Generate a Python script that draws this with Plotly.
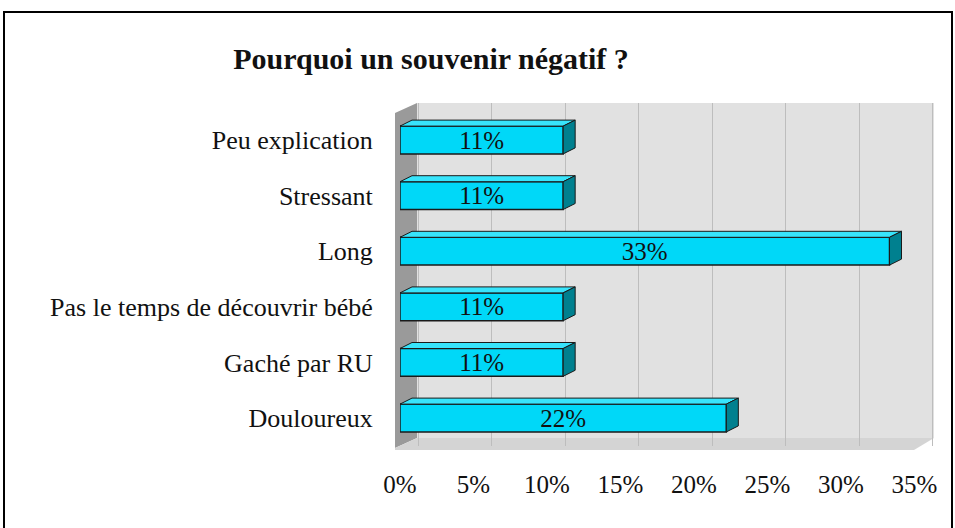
import plotly.graph_objects as go

# Data (bottom to top in plot order)
categories = ["Douloureux", "Gaché par RU", "Pas le temps de découvrir bébé",
              "Long", "Stressant", "Peu explication"]
values = [22.2, 11.1, 11.1, 33.3, 11.1, 11.1]
labels = ["22%", "11%", "11%", "33%", "11%", "11%"]
x_ticks = [0, 5, 10, 15, 20, 25, 30, 35]
x_ticklabels = ["0%", "5%", "10%", "15%", "20%", "25%", "30%", "35%"]

W, H = 955, 528
L, R, T, B = 400, 934, 103, 446   # plot area in px
PXU = 73.5 / 5.0                  # px per x unit
YPX = 55.6                        # px per category
x_range = [0, (R - L) / PXU]
y_range = [-(B - 418) / YPX, 5 + (140 - T) / YPX]

FONT = "Liberation Serif"
ypos = list(range(len(categories)))

# 3D depth of bars in data units
dxb = 12 / PXU
dyb = 6 / YPX
hw = 0.25

side_x, side_y, top_x, top_y = [], [], [], []
for yi, v in zip(ypos, values):
    side_x += [v, v + dxb, v + dxb, v, v, None]
    side_y += [yi - hw, yi - hw + dyb, yi + hw + dyb, yi + hw, yi - hw, None]
    top_x += [0, dxb, v + dxb, v, 0, None]
    top_y += [yi + hw, yi + hw + dyb, yi + hw + dyb, yi + hw, yi + hw, None]

fig = go.Figure()
fig.add_trace(go.Scatter(x=top_x, y=top_y, fill="toself", mode="lines",
                         fillcolor="#38e4fb", line=dict(color="#1a1a1a", width=1),
                         hoverinfo="skip", showlegend=False))
fig.add_trace(go.Scatter(x=side_x, y=side_y, fill="toself", mode="lines",
                         fillcolor="#00808f", line=dict(color="#1a1a1a", width=1),
                         hoverinfo="skip", showlegend=False))
fig.add_trace(go.Bar(x=values, y=ypos, orientation="h", width=0.5,
                     marker=dict(color="#00d8f8", line=dict(color="#1a1a1a", width=1.5)),
                     text=labels, textposition="inside", insidetextanchor="middle",
                     constraintext="none",
                     textfont=dict(family=FONT, size=25, color="#111111"),
                     showlegend=False))
# invisible trace on back-wall axis to anchor gridlines
back_shift = 18 / PXU
fig.add_trace(go.Scatter(x=[0], y=[0], xaxis="x2", mode="markers",
                         marker=dict(opacity=0), hoverinfo="skip", showlegend=False))

def px2paper_x(px):
    return (px - L) / (R - L)

def px2paper_y(py):
    return (B - py) / (B - T)

def path(points):
    s = ""
    for i, (px, py) in enumerate(points):
        s += ("M" if i == 0 else "L") + f"{px2paper_x(px):.5f},{px2paper_y(py):.5f} "
    return s + "Z"

shapes = [
    # back wall
    dict(type="path", xref="paper", yref="paper", layer="below",
         path=path([(417, T), (R, T), (R, 438), (417, 438)]),
         fillcolor="#e1e1e1", line=dict(width=0)),
    # left wall
    dict(type="path", xref="paper", yref="paper", layer="between",
         path=path([(395, 113), (417, T), (417, 438), (395, 448)]),
         fillcolor="#9a9a9a", line=dict(width=0)),
    # floor
    dict(type="path", xref="paper", yref="paper", layer="between",
         path=path([(395, 448), (417, 438), (R, 438), (914, 450), (395, 450)]),
         fillcolor="#d4d4d4", line=dict(width=0)),
    # outer frame
    dict(type="rect", xref="paper", yref="paper", layer="above",
         x0=px2paper_x(4), x1=px2paper_x(952), y0=px2paper_y(545), y1=px2paper_y(12),
         line=dict(color="#000000", width=2), fillcolor="rgba(0,0,0,0)"),
]

fig.update_layout(
    width=W, height=H,
    margin=dict(l=L, r=W - R, t=T, b=H - B, pad=0),
    paper_bgcolor="white", plot_bgcolor="rgba(0,0,0,0)",
    bargap=0.5,
    title=dict(text="<b>Pourquoi un souvenir négatif ?</b>", xref="container", yref="container",
               x=431 / W, xanchor="center", y=1 - 58 / H, yanchor="middle",
               font=dict(family=FONT, size=30, color="#111111")),
    xaxis=dict(range=x_range, tickvals=x_ticks, ticktext=x_ticklabels,
               showgrid=False, zeroline=False, showline=False,
               ticks="outside", ticklen=16, tickcolor="rgba(0,0,0,0)",
               tickfont=dict(family=FONT, size=25, color="#111111")),
    xaxis2=dict(overlaying="x", range=[x_range[0] - back_shift, x_range[1] - back_shift],
                tickvals=x_ticks, showticklabels=False, showgrid=True,
                gridcolor="#bdbdbd", gridwidth=1.2, zeroline=False, showline=False),
    yaxis=dict(range=y_range, tickvals=ypos, ticktext=categories,
               showgrid=False, zeroline=False, showline=False,
               ticks="outside", ticklen=21, tickcolor="rgba(0,0,0,0)",
               tickfont=dict(family=FONT, size=26, color="#111111")),
    shapes=shapes,
)

fig.write_html("out.html", config={"displayModeBar": False},
               post_script="document.body.style.margin='0';document.body.style.overflow='hidden';")
